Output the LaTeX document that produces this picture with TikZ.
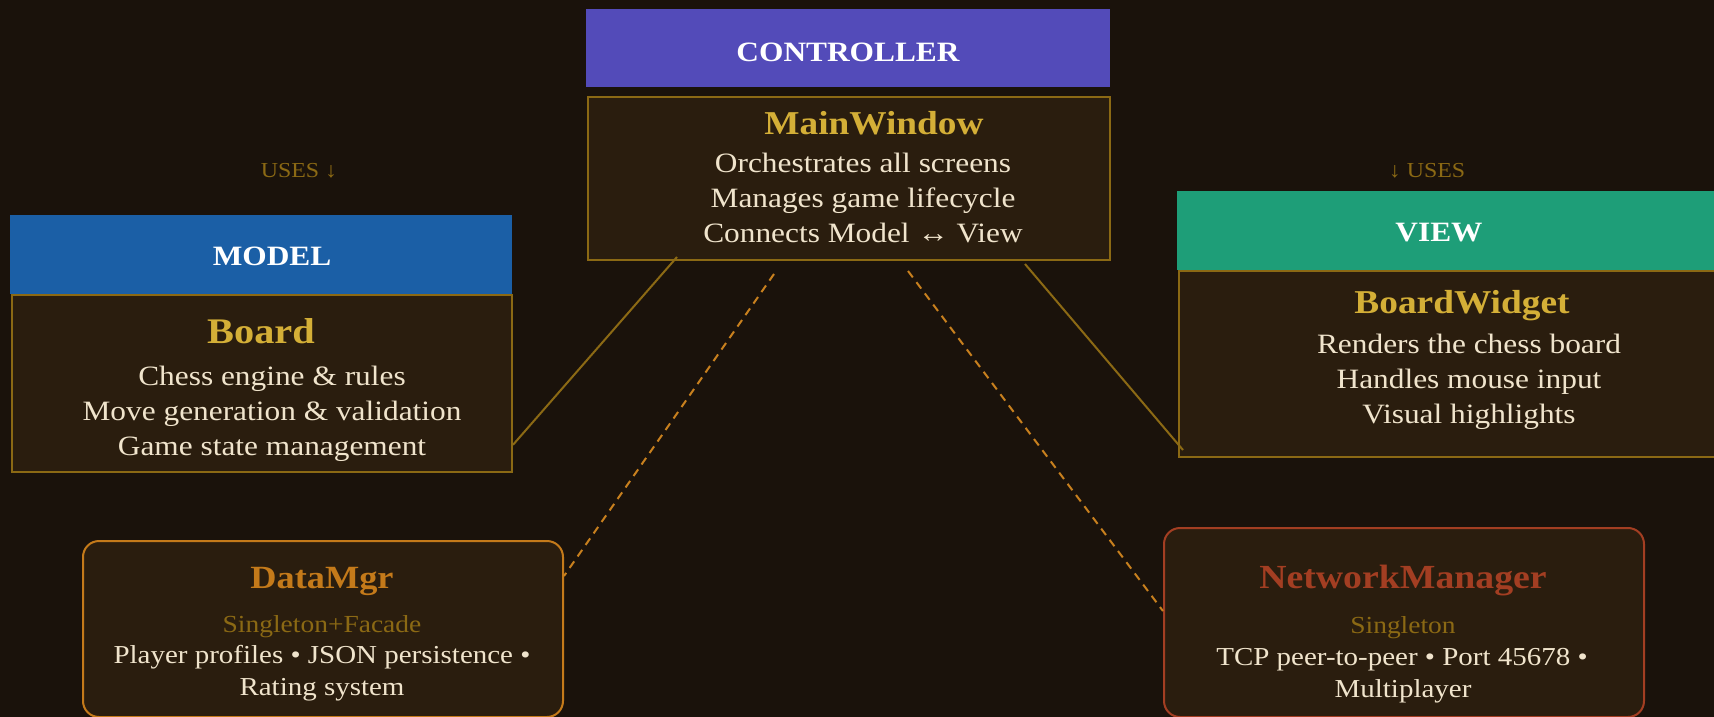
\documentclass[tikz,border=0pt]{standalone}
\usepackage{fontspec}
\setmainfont{Liberation Serif}[FakeStretch=1.12]
\usetikzlibrary{calc}
\definecolor{bg}{HTML}{1A120B}
\definecolor{boxfill}{HTML}{2A1D0E}
\definecolor{gold}{HTML}{8B6914}
\definecolor{titlegold}{HTML}{D4AF37}
\definecolor{cream}{HTML}{F0E4CC}
\definecolor{ctrlc}{HTML}{534BB9}
\definecolor{modelc}{HTML}{1B5FA6}
\definecolor{viewc}{HTML}{1E9E78}
\definecolor{dataor}{HTML}{C47A1A}
\definecolor{netred}{HTML}{A33E22}
\definecolor{dashc}{HTML}{C8801E}
\tikzset{
  boxbase/.style={rectangle, anchor=north west, inner sep=0pt},
  hdrbox/.style={boxbase},
  bodybox/.style={boxbase, draw=gold, fill=boxfill, line width=1.5pt},
  svcbox/.style={boxbase, fill=boxfill, line width=1.5pt, rounded corners=12pt},
  hdrtext/.style={anchor=base, inner sep=0pt, text=white, font=\bfseries\fontsize{21}{25}\selectfont},
  titletext/.style={anchor=base, inner sep=0pt, text=titlegold, font=\bfseries\fontsize{25}{30}\selectfont},
  linetext/.style={anchor=base, inner sep=0pt, text=cream, font=\fontsize{21}{25}\selectfont},
  smalltext/.style={anchor=base, inner sep=0pt, text=cream, font=\fontsize{19.4}{23}\selectfont},
  patterntext/.style={anchor=base, inner sep=0pt, text=gold, font=\fontsize{18.4}{22}\selectfont},
  usestext/.style={anchor=base, inner sep=0pt, text=gold, font=\fontsize{16}{19}\selectfont},
  solidlink/.style={draw=gold, line width=1.5pt},
  dashlink/.style={draw=dashc, line width=1.5pt, dash pattern=on 6pt off 4.5pt},
}
\begin{document}
\begin{tikzpicture}[x=0.75pt,y=-0.75pt]
\useasboundingbox (0,0) rectangle (1714,717);
\clip (0,0) rectangle (1714,717);
\fill[bg] (0,0) rectangle (1714,717);

% CONTROLLER
\node[bodybox, minimum width=391.5pt, minimum height=122.25pt] (ctrlbody) at (587,96) {};
\node[hdrbox, fill=ctrlc, minimum width=393pt, minimum height=58.5pt] (ctrlhead) at (586,9) {};
\node[hdrtext] (ctrlt) at (848,62) {CONTROLLER};
\node[titletext] (mw) at (874,134) {MainWindow};
\node[linetext] (mw1) at (863,172) {Orchestrates all screens};
\node[linetext] (mw2) at (863,207) {Manages game lifecycle};
\node[linetext] (mw3) at (863,242) {Connects Model ↔ View};

% MODEL
\node[bodybox, minimum width=375pt, minimum height=132.75pt] (modelbody) at (11,294) {};
\node[hdrbox, fill=modelc, minimum width=376.5pt, minimum height=59.25pt] (modelhead) at (10,215) {};
\node[hdrtext] (modelt) at (272,265) {MODEL};
\node[titletext, font=\bfseries\fontsize{27}{32}\selectfont] (board) at (261,343) {Board};
\node[linetext] (b1) at (272,385) {Chess engine \& rules};
\node[linetext] (b2) at (272,420) {Move generation \& validation};
\node[linetext] (b3) at (272,455) {Game state management};
\node[usestext] (usesl) at (299,177) {USES ↓};

% VIEW
\node[bodybox, minimum width=436.5pt, minimum height=139.5pt] (viewbody) at (1178,270) {};
\node[hdrbox, fill=viewc, minimum width=450pt, minimum height=59.25pt] (viewhead) at (1177,191) {};
\node[hdrtext] (viewt) at (1439,241) {VIEW};
\node[titletext] (bw) at (1462,313) {BoardWidget};
\node[linetext] (v1) at (1469,353) {Renders the chess board};
\node[linetext] (v2) at (1469,388) {Handles mouse input};
\node[linetext] (v3) at (1469,423) {Visual highlights};
\node[usestext] (usesr) at (1427,177) {↓ USES};

% DataMgr
\node[svcbox, draw=dataor, minimum width=360pt, minimum height=132pt] (datamgr) at (82,540) {};
\node[titletext, text=dataor, font=\bfseries\fontsize{24.3}{29}\selectfont] (dmt) at (322,588) {DataMgr};
\node[patterntext] (dmp) at (322,632) {Singleton+Facade};
\node[smalltext] (dm1) at (322,663) {Player profiles • JSON persistence •};
\node[smalltext] (dm2) at (322,695) {Rating system};

% NetworkManager
\node[svcbox, draw=netred, minimum width=360pt, minimum height=141.75pt] (netmgr) at (1163,527) {};
\node[titletext, text=netred, font=\bfseries\fontsize{25.3}{30}\selectfont] (nmt) at (1403,588) {NetworkManager};
\node[patterntext] (nmp) at (1403,633) {Singleton};
\node[smalltext] (nm1) at (1402,665) {TCP peer-to-peer • Port 45678 •};
\node[smalltext] (nm2) at (1403,697) {Multiplayer};

% connectors
\draw[solidlink] ([xshift=67.5pt,yshift=3pt]ctrlbody.south west) -- ([yshift=-46pt]modelbody.east);
\draw[solidlink] ([xshift=-64.5pt,yshift=-2.25pt]ctrlbody.south east) -- ([xshift=3.75pt,yshift=-64.5pt]viewbody.west);
\draw[dashlink] ([xshift=-56.25pt,yshift=-9.75pt]ctrlbody.south) -- ([yshift=39.75pt]datamgr.east);
\draw[dashlink] ([xshift=44.25pt,yshift=-7.5pt]ctrlbody.south) -- ([yshift=8.6pt]netmgr.west);
\end{tikzpicture}
\end{document}
